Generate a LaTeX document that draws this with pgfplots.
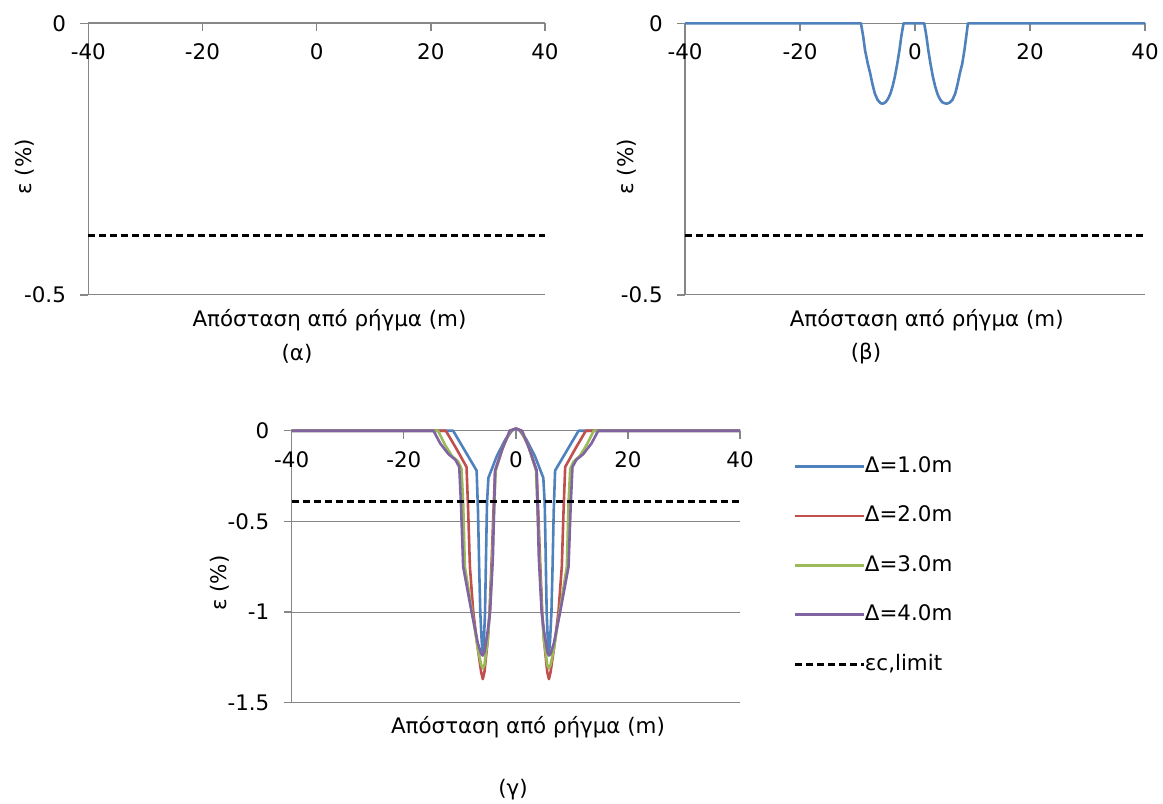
\documentclass[border=0pt]{standalone}
\usepackage{fontspec}
\setmainfont{DejaVu Sans}
\usepackage{pgfplots}
\pgfplotsset{compat=1.18}

\definecolor{serA}{HTML}{4F81BD}
\definecolor{serB}{HTML}{C0504D}
\definecolor{serC}{HTML}{9BBB59}
\definecolor{serD}{HTML}{8064A2}
\definecolor{axgrey}{HTML}{868686}

\newcommand{\chfont}{\fontsize{10.7bp}{12.8bp}\selectfont}

\pgfplotsset{
  strainaxis/.style={
    scale only axis, clip=false,
    xmin=-40, xmax=40, ymax=0,
    axis x line*=top, axis y line*=left,
    axis line style={axgrey, line width=0.7bp},
    xtick={-40,-20,0,20,40}, xticklabels={-40,-20,0,20,40},
    tick align=inside, major tick length=4bp,
    tick style={axgrey, line width=0.7bp},
    ytick style={xshift=-4bp},
    ymajorgrids, major grid style={axgrey, line width=0.5bp},
    tick label style={font=\chfont, text=black},
    xticklabel style={anchor=center, inner sep=0pt, yshift=-14.3bp},
    yticklabel style={anchor=east, inner sep=0pt, xshift=-11bp},
  },
  limitline/.style={black, line width=1.4bp, dash pattern=on 3.5bp off 2bp},
  series/.style={line width=1.3bp, line join=round},
}

\begin{document}
\begin{tikzpicture}[x=1bp, y=1bp]
\useasboundingbox (0,0) rectangle (581.5,401.5);

% (a) no fault displacement
\begin{axis}[strainaxis, at={(44.15bp,254bp)}, anchor=south west,
  width=228.35bp, height=135.85bp, ymin=-0.5,
  ytick={-0.5,0}, yticklabels={-0.5,0}]
\addplot[axgrey, line width=1.1bp] coordinates {(-40,0) (40,0)};
\addplot[limitline] coordinates {(-40,-0.39) (40,-0.39)};
\end{axis}

% (b) small displacement
\begin{axis}[strainaxis, at={(342.5bp,254bp)}, anchor=south west,
  width=230bp, height=135.85bp, ymin=-0.5,
  ytick={-0.5,0}, yticklabels={-0.5,0}]
\addplot[series, serA] coordinates {
  (-40,0) (-9.4,0) (-9.0,-0.025) (-8.7,-0.049) (-8.2,-0.075) (-7.8,-0.092)
  (-7.4,-0.112) (-7.0,-0.129) (-6.5,-0.141) (-6.0,-0.147) (-5.6,-0.148)
  (-5.1,-0.145) (-4.7,-0.139) (-4.3,-0.130) (-3.9,-0.116) (-3.5,-0.098)
  (-3.1,-0.075) (-2.7,-0.049) (-2.4,-0.025) (-2.0,0) (1.6,0)
  (2.0,-0.025) (2.3,-0.049) (2.7,-0.075) (3.1,-0.098) (3.5,-0.116)
  (3.9,-0.130) (4.3,-0.139) (4.7,-0.145) (5.1,-0.147) (5.5,-0.148)
  (6.0,-0.146) (6.5,-0.141) (7.0,-0.129) (7.4,-0.112) (7.8,-0.092)
  (8.2,-0.075) (8.6,-0.049) (8.9,-0.025) (9.2,0) (40,0)};
\addplot[limitline] coordinates {(-40,-0.39) (40,-0.39)};
\end{axis}

% (c) increasing displacement
\begin{axis}[strainaxis, at={(145.85bp,50.15bp)}, anchor=south west,
  width=224.15bp, height=136bp, ymin=-1.5,
  ytick={-1.5,-1,-0.5,0}, yticklabels={-1.5,-1,-0.5,0},
  legend cell align=left,
  legend style={at={(1.1189,0.9026)}, anchor=north west, draw=none, fill=none,
    inner sep=0pt, row sep=15.7bp, font=\chfont,
    nodes={inner sep=0pt, text height=7.5bp, text depth=1.5bp}},
  legend image code/.code={\draw[#1] (0bp,0bp) -- (34.2bp,0bp);}]
\addplot[series, serA] coordinates {
  (-40,0) (-11.2,0) (-9.1,-0.11) (-7.0,-0.22) (-6.75,-0.45) (-6.55,-0.75)
  (-6.35,-1.0) (-6.1,-1.16) (-5.9,-1.23) (-5.7,-1.16) (-5.5,-1.0)
  (-5.3,-0.65) (-5.15,-0.4) (-4.9,-0.26) (-3.4,-0.14) (-1.9,-0.05) (-0.7,0)
  (0,0.012) (0.7,0) (1.9,-0.05) (3.4,-0.14) (4.9,-0.26) (5.15,-0.4)
  (5.3,-0.65) (5.5,-1.0) (5.7,-1.16) (5.9,-1.23) (6.1,-1.16) (6.35,-1.0)
  (6.55,-0.75) (6.75,-0.45) (7.0,-0.22) (9.1,-0.11) (11.2,0) (40,0)};
\addlegendentry{Δ=1.0m}
\addplot[series, serB] coordinates {
  (-40,0) (-12.5,0) (-10.6,-0.1) (-8.8,-0.2) (-8.5,-0.45) (-8.2,-0.75)
  (-7.6,-1.0) (-6.8,-1.2) (-6.2,-1.33) (-5.9,-1.37) (-5.6,-1.33)
  (-5.0,-1.15) (-4.7,-1.0) (-4.3,-0.7) (-4.0,-0.45) (-3.7,-0.22)
  (-2.2,-0.08) (-0.9,0) (0,0.012) (0.9,0) (2.2,-0.08)
  (3.7,-0.22) (4.0,-0.45) (4.3,-0.7) (4.7,-1.0) (5.0,-1.15)
  (5.6,-1.33) (5.9,-1.37) (6.2,-1.33) (6.8,-1.2) (7.6,-1.0) (8.2,-0.75)
  (8.5,-0.45) (8.8,-0.2) (10.6,-0.1) (12.5,0) (40,0)};
\addlegendentry{Δ=2.0m}
\addplot[series, serC] coordinates {
  (-40,0) (-13.9,0) (-12.6,-0.08) (-11.4,-0.14) (-10.3,-0.17) (-9.7,-0.21)
  (-9.4,-0.4) (-9.1,-0.75) (-7.8,-1.0) (-6.8,-1.2) (-6.2,-1.29)
  (-5.9,-1.31) (-5.6,-1.29) (-5.0,-1.15) (-4.65,-1.0) (-4.2,-0.7)
  (-3.9,-0.45) (-3.6,-0.22) (-2.3,-0.09) (-1.0,0) (0,0.012) (1.0,0)
  (2.3,-0.09) (3.6,-0.22) (3.9,-0.45) (4.2,-0.7) (4.65,-1.0) (5.0,-1.15)
  (5.6,-1.29) (5.9,-1.31) (6.2,-1.29) (6.8,-1.2) (7.8,-1.0) (9.1,-0.75)
  (9.4,-0.4) (9.7,-0.21) (10.3,-0.17) (11.4,-0.14) (12.6,-0.08) (13.9,0) (40,0)};
\addlegendentry{Δ=3.0m}
\addplot[series, serD] coordinates {
  (-40,0) (-14.7,0) (-13.5,-0.07) (-12.0,-0.13) (-10.8,-0.16) (-10.1,-0.2)
  (-9.8,-0.4) (-9.4,-0.75) (-7.9,-1.0) (-6.8,-1.17) (-6.2,-1.23)
  (-5.9,-1.24) (-5.6,-1.22) (-5.0,-1.1) (-4.6,-1.0) (-4.1,-0.7)
  (-3.9,-0.45) (-3.7,-0.22) (-2.4,-0.1) (-1.1,0) (0,0.012) (1.1,0)
  (2.4,-0.1) (3.7,-0.22) (3.9,-0.45) (4.1,-0.7) (4.6,-1.0) (5.0,-1.1)
  (5.6,-1.22) (5.9,-1.24) (6.2,-1.23) (6.8,-1.17) (7.9,-1.0) (9.4,-0.75)
  (9.8,-0.4) (10.1,-0.2) (10.8,-0.16) (12.0,-0.13) (13.5,-0.07) (14.7,0) (40,0)};
\addlegendentry{Δ=4.0m}
\addplot[limitline] coordinates {(-40,-0.39) (40,-0.39)};
\addlegendentry{εc,limit}
\end{axis}

% axis titles and panel captions
\begin{scope}[every node/.style={font=\chfont, inner sep=0pt}]
\node[rotate=90] at (12.5,318) {ε (\%)};
\node[rotate=90] at (313.5,318) {ε (\%)};
\node[rotate=90] at (110,110) {ε (\%)};
\node at (164.75,241.5) {Απόσταση από ρήγμα (m)};
\node at (463.35,241.5) {Απόσταση από ρήγμα (m)};
\node at (264,38) {Απόσταση από ρήγμα (m)};
\node at (148.5,224.5) {(α)};
\node at (433,224.5) {(β)};
\node at (256.5,6.5) {(γ)};
\end{scope}
\end{tikzpicture}
\end{document}
